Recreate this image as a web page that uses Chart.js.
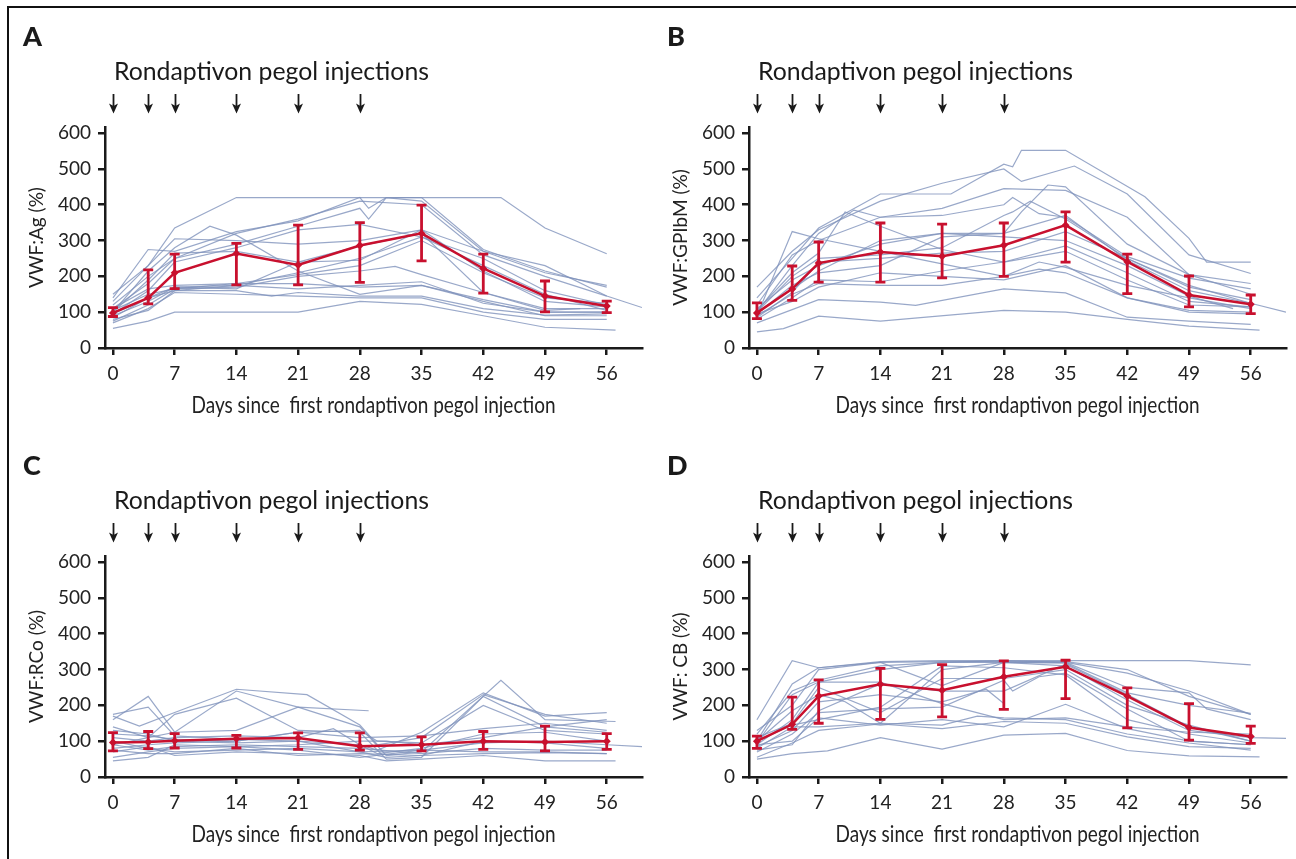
<!DOCTYPE html>
<html>
<head>
<meta charset="utf-8">
<script src="https://cdn.jsdelivr.net/npm/chart.js@4.4.1/dist/chart.umd.min.js"></script>
<style>
  html, body { margin: 0; padding: 0; background: #fff; }
  #page { position: relative; width: 1296px; height: 859px; overflow: hidden; background: #fff; }
  #frame { position: absolute; left: 7px; top: 6px; width: 1400px; height: 1000px;
           border-top: 2px solid #111; border-left: 2px solid #111; }
  canvas { position: absolute; }
</style>
</head>
<body>
<div id="page">
  <div id="frame"></div>
  <canvas id="cA" width="648" height="429" style="left:0;top:0"></canvas>
  <canvas id="cB" width="648" height="429" style="left:644px;top:0"></canvas>
  <canvas id="cC" width="648" height="429" style="left:0;top:429px"></canvas>
  <canvas id="cD" width="648" height="429" style="left:644px;top:429px"></canvas>
</div>
<script>
// ---- shared axes ----
const meanDays = [0, 4, 7, 14, 21, 28, 35, 42, 49, 56];
const injectionDays = [0, 4, 7, 14, 21, 28];
const xTickValues = [0, 7, 14, 21, 28, 35, 42, 49, 56];
const yTickValues = [0, 100, 200, 300, 400, 500, 600];
const xAxisTitle = "Days since  first rondaptivon pegol injection";

// ---- A: VWF:Ag ----
const agMean = [98, 140, 210, 264, 232, 286, 320, 222, 145, 117];
const agLow  = [88, 123, 166, 176, 176, 183, 243, 153, 101, 99];
const agHigh = [113, 218, 262, 292, 343, 350, 399, 262, 187, 131];
const agPatients = [
  [[0,150],[4,230],[7,335],[14,420],[21,420],[28,420],[35,420],[44,420],[49,335],[56,263]],
  [[0,55],[4,75],[7,100],[14,100],[21,100],[28,130],[35,122],[42,90],[49,58],[57,50]],
  [[0,80],[4,105],[7,160],[14,160],[18,145],[21,155],[28,145],[35,145],[42,110],[49,92],[56,95]],
  [[0,95],[4,140],[7,170],[14,175],[21,165],[28,175],[35,185],[42,125],[49,100],[56,100]],
  [[0,105],[4,150],[7,165],[14,170],[21,200],[28,215],[32,228],[35,205],[42,155],[49,110],[56,110]],
  [[0,110],[4,165],[7,175],[14,180],[21,180],[28,170],[35,175],[42,135],[49,100],[56,100]],
  [[0,90],[4,130],[7,170],[14,165],[21,240],[28,245],[35,330],[42,215],[49,130],[56,115]],
  [[0,120],[4,200],[7,250],[14,290],[21,340],[28,390],[29,360],[31,420],[35,410],[42,270],[49,210],[56,175]],
  [[0,140],[4,275],[7,270],[14,325],[21,355],[28,420],[29,390],[31,420],[35,420],[42,275],[49,215],[56,170]],
  [[0,130],[4,230],[7,305],[14,300],[21,290],[28,300],[35,330],[42,270],[49,230],[56,145],[60,113]],
  [[0,100],[4,215],[7,280],[11,340],[14,315],[21,215],[28,150],[35,175],[42,130],[49,90],[56,90]],
  [[0,110],[4,180],[7,250],[14,320],[21,360],[28,410],[35,400],[42,260],[49,200],[56,145]],
  [[0,75],[4,120],[7,165],[14,180],[21,205],[28,230],[35,300],[42,210],[49,140],[56,125]],
  [[0,95],[4,160],[7,240],[14,280],[21,330],[28,345],[35,310],[42,250],[49,160],[56,120]],
  [[0,85],[4,140],[7,160],[14,175],[21,210],[28,250],[35,310],[42,230],[49,150],[56,105]],
  [[0,100],[4,190],[7,265],[14,270],[21,240],[28,285],[35,320],[42,155],[49,105],[53,110]],
  [[0,70],[4,110],[7,155],[14,150],[21,145],[28,140],[35,140],[42,100],[49,80],[56,80]],
];

// ---- B: VWF:GPIbM ----
const gpMean = [98, 165, 237, 268, 256, 287, 343, 241, 148, 122];
const gpLow  = [82, 133, 184, 184, 196, 200, 240, 152, 115, 96];
const gpHigh = [126, 229, 296, 349, 346, 349, 380, 262, 201, 148];
const gpPatients = [
  [[0,140],[4,250],[7,335],[14,430],[22,430],[28,513],[29,506],[30,552],[35,552],[44,422],[49,306],[51,240],[56,240]],
  [[0,170],[4,270],[7,330],[14,410],[21,460],[28,500],[30,465],[36,508],[42,430],[49,260],[56,208]],
  [[0,45],[3,54],[7,89],[14,75],[28,105],[35,100],[42,80],[49,61],[57,50]],
  [[0,70],[7,135],[14,128],[18,119],[28,165],[35,154],[42,86],[49,75],[56,66]],
  [[0,90],[4,325],[7,305],[14,270],[21,235],[28,200],[32,220],[35,210],[42,140],[49,105],[56,100]],
  [[0,100],[4,230],[7,320],[11,385],[14,365],[21,390],[28,445],[35,440],[42,365],[49,205],[56,180]],
  [[0,120],[4,260],[7,300],[14,365],[21,370],[28,400],[29,420],[32,375],[35,365],[42,255],[49,195],[56,165]],
  [[0,110],[4,190],[7,230],[14,290],[21,320],[28,320],[30,380],[33,455],[35,450],[42,290],[49,205],[56,150]],
  [[0,100],[4,200],[7,250],[14,260],[21,280],[28,370],[29,380],[31,410],[35,360],[42,250],[49,170],[56,135]],
  [[0,95],[4,175],[7,210],[14,230],[21,310],[28,320],[35,370],[42,245],[49,160],[56,125],[60,100]],
  [[0,90],[4,150],[7,180],[14,175],[21,175],[28,200],[32,240],[35,225],[42,175],[49,140],[56,110]],
  [[0,80],[4,140],[7,190],[14,185],[21,215],[28,240],[35,285],[42,210],[49,130],[56,115]],
  [[0,100],[4,165],[7,215],[14,300],[21,320],[28,310],[35,300],[42,230],[49,145],[54,110]],
  [[0,105],[4,210],[7,265],[10,380],[14,340],[21,275],[28,240],[35,270],[42,190],[49,120],[56,115]],
  [[0,85],[4,155],[7,240],[14,250],[21,265],[28,270],[35,325],[42,250],[49,175],[56,125]],
  [[0,95],[4,130],[7,170],[14,210],[21,200],[28,190],[35,230],[42,140],[49,100],[56,95]],
];

// ---- C: VWF:RCo ----
const rcoMean = [96, 98, 101, 107, 109, 86, 90, 100, 98, 100];
const rcoLow  = [73, 79, 81, 81, 77, 75, 73, 77, 73, 77];
const rcoHigh = [124, 127, 121, 116, 123, 123, 112, 127, 142, 121];
const rcoPatients = [
  [[0,170],[3,142],[7,180],[14,245],[22,230],[28,145],[30,90],[35,110],[42,230],[49,175],[56,150]],
  [[0,160],[4,225],[7,125],[14,240],[21,195],[28,140],[31,60],[35,70],[44,270],[49,160],[57,155]],
  [[0,175],[4,195],[7,115],[14,105],[21,100],[28,90],[30,75],[35,125],[42,235],[49,170],[56,180]],
  [[0,90],[4,110],[7,125],[14,130],[21,195],[29,185]],
  [[0,140],[4,110],[7,175],[14,220],[21,130],[28,125],[31,50],[35,55],[42,225],[49,140],[56,125]],
  [[0,80],[4,90],[7,95],[14,100],[21,125],[28,130],[30,100],[35,95],[42,200],[49,130],[56,120]],
  [[0,45],[4,55],[7,90],[14,85],[21,90],[28,100],[31,100],[35,90],[42,110],[49,140],[56,160]],
  [[0,100],[4,80],[7,70],[14,75],[21,80],[28,70],[35,75],[42,70],[49,70],[56,65]],
  [[0,70],[4,85],[7,60],[14,70],[21,65],[28,60],[31,45],[35,50],[42,60],[49,45],[57,45]],
  [[0,110],[4,100],[7,110],[14,115],[21,110],[25,135],[28,90],[30,65],[35,80],[42,120],[49,125],[56,100]],
  [[0,55],[4,70],[7,80],[14,85],[21,75],[28,55],[35,75],[42,95],[49,100],[56,90],[60,85]],
  [[0,90],[4,75],[7,85],[14,90],[21,85],[28,80],[35,65],[42,80],[49,75],[56,75]],
  [[0,120],[4,115],[7,105],[14,100],[21,125],[28,110],[35,115],[42,135],[49,150],[56,130]],
  [[0,75],[4,65],[7,65],[14,80],[21,60],[28,65],[35,60],[42,65],[49,68],[56,65]],
  [[0,130],[4,120],[7,100],[14,95],[21,100],[28,70],[31,55],[35,60],[42,100],[49,95],[56,80]],
];

// ---- D: VWF:CB ----
const cbMean = [100, 147, 226, 259, 242, 280, 308, 226, 138, 113];
const cbLow  = [80, 133, 150, 161, 168, 189, 219, 137, 103, 94];
const cbHigh = [114, 223, 271, 303, 314, 324, 326, 249, 205, 142];
const cbPatients = [
  [[0,160],[4,325],[7,305],[14,322],[21,325],[28,325],[35,325],[42,325],[49,325],[56,313]],
  [[0,50],[4,65],[8,73],[14,110],[21,78],[28,117],[35,122],[42,74],[49,59],[57,56]],
  [[0,55],[4,95],[7,130],[14,148],[21,135],[28,155],[35,150],[42,112],[49,85],[56,80]],
  [[0,80],[4,140],[7,140],[14,150],[21,145],[25,170],[28,165],[35,160],[42,120],[49,95],[56,75]],
  [[0,90],[4,100],[7,165],[14,145],[21,160],[28,140],[35,203],[42,135],[49,100],[56,90]],
  [[0,100],[4,260],[7,305],[14,320],[21,322],[28,322],[35,322],[42,300],[49,225],[56,175]],
  [[0,120],[4,240],[7,270],[14,310],[21,320],[28,325],[35,320],[42,250],[49,235],[51,190],[56,160]],
  [[0,130],[4,200],[7,300],[14,320],[21,255],[28,320],[35,318],[42,235],[49,200],[56,178]],
  [[0,90],[4,160],[7,265],[14,265],[21,205],[28,160],[35,165],[42,140],[49,125],[56,120]],
  [[0,110],[4,150],[7,250],[14,180],[21,275],[28,275],[35,300],[42,200],[49,145],[56,100]],
  [[0,100],[4,185],[7,230],[10,210],[14,150],[21,300],[28,320],[35,310],[42,215],[49,130],[56,110],[60,108]],
  [[0,85],[4,130],[7,210],[14,230],[21,210],[26,245],[28,205]],
  [[0,70],[4,120],[7,180],[14,190],[21,195],[28,270],[29,240],[32,280],[35,290],[42,190],[49,100],[56,90]],
  [[0,100],[4,145],[7,160],[14,195],[21,310],[28,305],[35,285],[42,160],[49,120],[56,95]],
  [[0,75],[4,90],[7,185],[14,260],[21,240],[28,240],[35,315],[42,230],[49,140],[56,100]],
  [[0,95],[4,230],[7,265],[14,300],[21,320],[28,320],[35,320],[42,290],[49,240],[56,175]],
];

const RED = "#c8102e";
const GREY = "rgba(128,146,188,0.8)";
const INK = "#1a1a1a";

// letter, "injections" caption, arrows and the (condensed) x-axis title
const panelDecor = {
  id: "panelDecor",
  afterDraw(chart, args, opts) {
    const { ctx, chartArea } = chart;
    const x = chart.scales.x;
    ctx.save();
    ctx.fillStyle = INK;
    ctx.textBaseline = "alphabetic";
    ctx.font = "900 27px Lato";
    ctx.fillText(opts.letter, 23, 46);
    ctx.font = "24.8px Lato";
    ctx.fillText("Rondaptivon pegol injections", x.getPixelForValue(0) + 1, 80);

    // x title: condensed face is not installed, so squeeze horizontally
    ctx.font = "23px Lato";
    ctx.fillStyle = "#222";
    ctx.textAlign = "center";
    const w = ctx.measureText(xAxisTitle).width;
    ctx.save();
    ctx.translate((chartArea.left + chartArea.right) / 2, 413);
    ctx.scale(364 / w, 1);
    ctx.fillText(xAxisTitle, 0, 0);
    ctx.restore();

    ctx.fillStyle = INK;
    ctx.strokeStyle = INK;
    ctx.lineWidth = 1.8;
    for (const d of injectionDays) {
      const px = Math.round(x.getPixelForValue(d)) + 0.5;
      ctx.beginPath(); ctx.moveTo(px, 94); ctx.lineTo(px, 106); ctx.stroke();
      ctx.beginPath();
      ctx.moveTo(px - 4.5, 103.5); ctx.lineTo(px, 106); ctx.lineTo(px + 4.5, 103.5);
      ctx.lineTo(px, 113.5); ctx.closePath(); ctx.fill();
    }
    ctx.restore();
  },
};

// mean ± range whiskers on the red series
const errorBars = {
  id: "errorBars",
  afterDatasetsDraw(chart, args, opts) {
    const { ctx } = chart;
    const { x, y } = chart.scales;
    ctx.save();
    ctx.strokeStyle = RED;
    ctx.lineWidth = 2.8;
    meanDays.forEach((d, i) => {
      const px = x.getPixelForValue(d);
      const lo = y.getPixelForValue(opts.low[i]);
      const hi = y.getPixelForValue(opts.high[i]);
      ctx.beginPath();
      ctx.moveTo(px, lo); ctx.lineTo(px, hi);
      ctx.moveTo(px - 5, lo); ctx.lineTo(px + 5, lo);
      ctx.moveTo(px - 5, hi); ctx.lineTo(px + 5, hi);
      ctx.stroke();
    });
    ctx.restore();
  },
};

function makePanel(id, letter, yTitle, mean, low, high, patients) {
  const tickFont = { family: "Lato", size: 19 };
  const axisGrid = { display: true, drawOnChartArea: false, drawTicks: true,
                     tickLength: 7, color: INK, lineWidth: 2.5 };
  const datasets = [{
    data: meanDays.map((d, i) => ({ x: d, y: mean[i] })),
    borderColor: RED, backgroundColor: RED, borderWidth: 2.5,
    pointStyle: "rectRot", pointRadius: 4, pointBorderWidth: 0, pointBackgroundColor: RED,
  }].concat(patients.map((p) => ({
    data: p.map(([d, v]) => ({ x: d, y: v })),
    borderColor: GREY, borderWidth: 1.2, pointRadius: 0,
  })));

  return new Chart(document.getElementById(id), {
    type: "line",
    data: { datasets },
    plugins: [panelDecor, errorBars],
    options: {
      responsive: false, animation: false, events: [],
      layout: { padding: { left: 0, top: 127, right: 6, bottom: 11 } },
      elements: { line: { tension: 0 } },
      plugins: {
        legend: { display: false }, tooltip: { enabled: false },
        panelDecor: { letter },
        errorBars: { low, high },
      },
      scales: {
        x: {
          type: "linear", min: -0.9, max: 60,
          afterBuildTicks: (s) => { s.ticks = xTickValues.map((v) => ({ value: v })); },
          afterFit: (s) => { s.height = 70; },
          border: { display: true, color: INK, width: 2.5 },
          grid: axisGrid,
          ticks: { padding: 7, color: "#222", font: tickFont, maxRotation: 0, autoSkip: false },
          title: { display: false },
        },
        y: {
          min: 0, max: 617,
          afterBuildTicks: (s) => { s.ticks = yTickValues.map((v) => ({ value: v })); },
          afterFit: (s) => { s.width = 105; },
          border: { display: true, color: INK, width: 2.5 },
          grid: axisGrid,
          ticks: { padding: 7, color: "#222", font: tickFont },
          title: { display: true, text: yTitle, color: "#222",
                   font: { family: "Lato", size: 19 }, padding: { top: 25, bottom: 0 } },
        },
      },
    },
  });
}

makePanel("cA", "A", "VWF:Ag (%)", agMean, agLow, agHigh, agPatients);
makePanel("cB", "B", "VWF:GPIbM (%)", gpMean, gpLow, gpHigh, gpPatients);
makePanel("cC", "C", "VWF:RCo (%)", rcoMean, rcoLow, rcoHigh, rcoPatients);
makePanel("cD", "D", "VWF: CB (%)", cbMean, cbLow, cbHigh, cbPatients);
</script>
</body>
</html>
